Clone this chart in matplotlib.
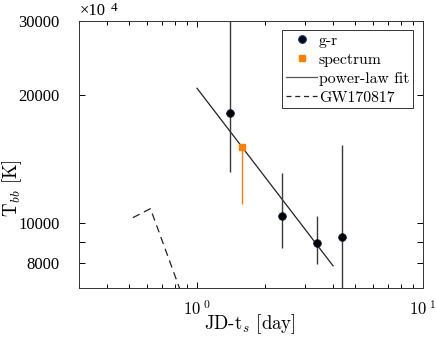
import matplotlib
matplotlib.use('Agg')
import matplotlib.pyplot as plt
from matplotlib.lines import Line2D

plt.rcParams['mathtext.fontset'] = 'cm'
plt.rcParams['axes.unicode_minus'] = False

# g-r colour temperatures
gr_t = [1.40, 2.38, 3.38, 4.40]
gr_T = [18200, 10380, 8960, 9250]
gr_lo = [5050, 1690, 980, 3000]
gr_hi = [15000, 2700, 1410, 6020]

# spectrum temperature
sp_t = [1.574]
sp_T = [15070]
sp_lo = [4020]
sp_hi = [0]

# power-law fit end points
fit_t = [1.0, 4.0]
fit_T = [20800, 7900]

# GW170817 comparison
gw_t = [0.52, 0.622, 0.87]
gw_T = [10270, 10790, 6600]

ytick_vals = [8000, 9000, 10000, 20000, 30000]
ytick_labels = ['8000', '', '10000', '20000', '30000']

fig = plt.figure(figsize=(4.36, 3.40), dpi=100)
ax = fig.add_axes([0.181, 0.153, 0.789, 0.785])

ecol = '#3a3a3a'
orange = '#ff8000'
ax.errorbar(gr_t, gr_T, yerr=[gr_lo, gr_hi], fmt='o', color='k', ecolor=ecol,
            elinewidth=1.0, capsize=0, markersize=5.5, markeredgecolor='#0a1a3a',
            markeredgewidth=0.6, zorder=4)
ax.errorbar(sp_t, sp_T, yerr=[sp_lo, sp_hi], fmt='s', color=orange, ecolor=orange,
            elinewidth=1.0, capsize=0, markersize=4.5, zorder=4)
ax.plot(fit_t, fit_T, '-', color='#222222', lw=0.9, zorder=3)
ax.plot(gw_t, gw_T, '--', color='#222222', lw=0.9, dashes=(6, 4))

ax.set_xscale('log')
ax.set_yscale('log')
ax.set_xlim(0.3, 10)
ax.set_ylim(7000, 30000)

ax.set_yticks(ytick_vals)
ax.set_yticklabels(ytick_labels)
ax.yaxis.set_minor_locator(matplotlib.ticker.NullLocator())
ax.set_xticks([1, 10])
ax.set_xticklabels([r'$10^{\;0}$', r'$10^{\;1}$'])

ax.tick_params(which='both', direction='in', top=True, right=True, width=0.7)
ax.tick_params(which='major', length=4)
ax.tick_params(which='minor', length=3)
ax.tick_params(axis='y', labelsize=12, pad=14)
ax.tick_params(axis='x', labelsize=12, pad=9)
for lab in ax.get_yticklabels():
    lab.set_family('Liberation Serif')
for sp in ax.spines.values():
    sp.set_linewidth(0.7)
    sp.set_color('#333333')

ax.set_xlabel(r'JD-t$_s$ [day]', family='cmr10', fontsize=13.5)
ax.xaxis.label.set_va('bottom')
ax.xaxis.set_label_coords(250 / 436, 4 / 340, transform=fig.transFigure)
ax.set_ylabel(r'T$_{bb}$ [K]', family='cmr10', fontsize=13.5)
ax.yaxis.set_label_coords(24 / 436, 152 / 340, transform=fig.transFigure)

fig.text(80 / 436, 1 - 19 / 340, '×10', family='Liberation Serif', fontsize=12,
         ha='left', va='bottom')
fig.text(111 / 436, 1 - 2 / 340, '4', family='Liberation Serif', fontsize=9.5,
         ha='left', va='top')

handles = [
    Line2D([], [], ls='none', marker='o', color='k', markersize=5.5,
           markeredgecolor='#0a3a8a', markeredgewidth=0.8),
    Line2D([], [], ls='none', marker='s', color=orange, markersize=4.5),
    Line2D([], [], ls='-', color='#555555', lw=0.9),
    Line2D([], [], ls='--', color='#222222', lw=0.9, dashes=(4, 3)),
]
labels = ['g-r', 'spectrum', 'power-law fit', 'GW170817']
leg = ax.legend(handles, labels, loc='upper right', bbox_to_anchor=(0.972, 0.968),
                prop={'family': 'cmr10', 'size': 11.3},
                fancybox=False, edgecolor='#333333', framealpha=1, borderpad=0.25,
                labelspacing=0.32, handlelength=2.0, handletextpad=0.1,
                borderaxespad=0)
leg.get_frame().set_linewidth(0.7)

fig.savefig('out.png', dpi=100)
